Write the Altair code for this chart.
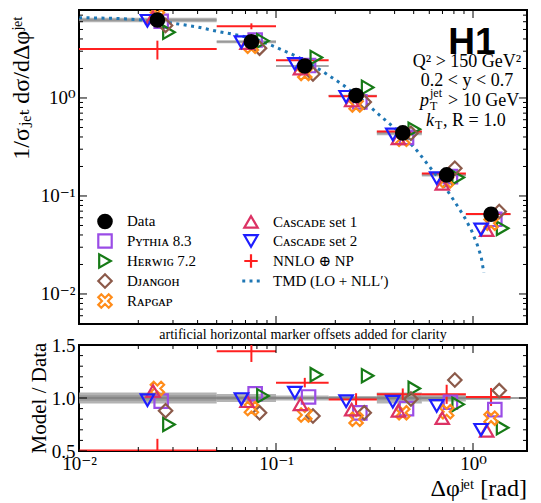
import altair as alt
import pandas as pd

# ---------------- data ----------------
bin_lo = [0.0, 0.05, 0.10, 0.185, 0.325, 0.55, 0.92]
bin_hi = [0.05, 0.10, 0.185, 0.325, 0.55, 0.92, 1.55]
bin_center = [0.025, 0.075, 0.14, 0.255, 0.44, 0.735, 1.235]
data_val = [6.25, 3.75, 2.12, 1.06, 0.44, 0.164, 0.065]
unc_tot = [0.053, 0.038, 0.024, 0.018, 0.052, 0.034, 0.02]
unc_stat = [0.025, 0.016, 0.010, 0.008, 0.022, 0.013, 0.008]

ratio_pythia = [0.97, 1.04, 1.01, 0.86, 0.90, 0.96, 0.89]
ratio_herwig = [0.75, 1.02, 1.22, 1.21, 1.09, 0.94, 0.72]
ratio_djangoh = [0.88, 0.86, 0.83, 0.86, 0.99, 1.17, 1.07]
ratio_rapgap = [1.09, 0.90, 0.84, 0.80, 0.86, 0.87, 0.81]
ratio_cascade1 = [1.066, 0.97, 0.94, 0.89, 0.88, 0.81, 0.69]
ratio_cascade2 = [0.98, 0.99, 1.05, 0.97, 0.965, 0.925, 0.70]
ratio_nnlo = [0.505, 1.44, 1.145, 0.985, 1.035, 1.035, 1.01]
err_nnlo = [0.11, 0.10, 0.045, 0.06, 0.055, 0.09, 0.085]

tmd_x = [0.010, 0.015, 0.02, 0.03, 0.04, 0.05, 0.065, 0.08, 0.10, 0.13, 0.17,
         0.22, 0.28, 0.35, 0.44, 0.52, 0.60, 0.70, 0.80, 0.90, 0.98, 1.05, 1.10, 1.135]
tmd_y = [6.6, 6.5, 6.3, 5.8, 5.3, 4.8, 4.35, 3.95, 3.3, 2.6, 1.9,
         1.35, 0.92, 0.62, 0.42, 0.29, 0.20, 0.135, 0.09, 0.062, 0.045, 0.032, 0.024, 0.0165]

PY, HW, DJ, RG = "Pʏᴛʜɪᴀ 8.3", "Hᴇʀᴡɪɢ 7.2", "Dᴊᴀɴɢᴏʜ", "Rᴀᴘɢᴀᴘ"
C1, C2 = "Cᴀsᴄᴀᴅᴇ set 1", "Cᴀsᴄᴀᴅᴇ set 2"
NN, TM, DA = "NNLO ⊕ NP", "TMD (LO + NLL′)", "Data"

model_ratios = {PY: ratio_pythia, HW: ratio_herwig, DJ: ratio_djangoh,
                RG: ratio_rapgap, C1: ratio_cascade1, C2: ratio_cascade2}
# artificial horizontal marker offsets (multiplicative, log axis)
offsets = {C2: 0.89, C1: 0.95, RG: 1.0, PY: 1.045, DJ: 1.10, HW: 1.145}

# ---------------- styling ----------------
SERIF = "Liberation Serif, DejaVu Serif, serif"
W, H_TOP, H_BOT = 448, 314, 106
XMIN = 0.01
XMAX = 10 ** (-2 + W / 197.0)   # keep ~197 px per decade
X_PATH = ("M -1 -0.55 L -0.55 -1 L 0 -0.45 L 0.55 -1 L 1 -0.55 L 0.45 0 L 1 0.55 "
          "L 0.55 1 L 0 0.45 L -0.55 1 L -1 0.55 L -0.45 0 Z")
PLUS_PATH = "M -1 0 L 1 0 M 0 -1 L 0 1"
DOTS_PATH = ("M -1.3 -0.22 h 0.44 v 0.44 h -0.44 Z M -0.22 -0.22 h 0.44 v 0.44 h -0.44 Z "
             "M 0.86 -0.22 h 0.44 v 0.44 h -0.44 Z")

legend_order = [DA, PY, HW, DJ, RG, C1, C2, NN, TM]
shape_of = {DA: "circle", PY: "square", HW: "triangle-right", DJ: "diamond", RG: X_PATH,
            C1: "triangle-up", C2: "triangle-down", NN: PLUS_PATH, TM: DOTS_PATH}
stroke_of = {DA: "black", PY: "#9a4ce6", HW: "#167a16", DJ: "#8c5a4a", RG: "#ff8c1a",
             C1: "#dc3264", C2: "#1e1eff", NN: "#ff2020", TM: "transparent"}
fill_of = {k: "transparent" for k in legend_order}
fill_of[DA] = "black"
fill_of[TM] = "#1f77b4"

# ---------------- tables ----------------
bins = pd.DataFrame({"lo": bin_lo, "hi": bin_hi, "c": bin_center, "d": data_val,
                     "ut": unc_tot, "us": unc_stat, "rn": ratio_nnlo, "en": err_nnlo})
bins["lo"] = bins["lo"].clip(lower=XMIN)
bins["t_lo"] = bins.d * (1 - bins.ut)
bins["t_hi"] = bins.d * (1 + bins.ut)
bins["s_lo"] = bins.d * (1 - bins.us)
bins["s_hi"] = bins.d * (1 + bins.us)
bins["r_t_lo"] = 1 - bins.ut
bins["r_t_hi"] = 1 + bins.ut
bins["r_s_lo"] = 1 - bins.us
bins["r_s_hi"] = 1 + bins.us
bins["n_val"] = bins.rn * bins.d
bins["n_lo"] = (bins.rn - bins.en) * bins.d
bins["n_hi"] = (bins.rn + bins.en) * bins.d
bins["rn_lo"] = bins.rn - bins.en
bins["rn_hi"] = bins.rn + bins.en

rows = []
for m, rr in model_ratios.items():
    for i in range(len(bin_center)):
        rows.append({"model": m, "xo": bin_center[i] * offsets[m],
                     "top": rr[i] * data_val[i], "ratio": rr[i]})
for i in range(len(bin_center)):
    rows.append({"model": DA, "xo": bin_center[i], "top": data_val[i], "ratio": 1.0})
pts = pd.DataFrame(rows)
pts["order"] = range(len(pts))

tmd = pd.DataFrame({"x": tmd_x, "y": tmd_y})

# ---------------- scales / axes ----------------
xs = alt.Scale(type="log", domain=[XMIN, XMAX], nice=False)
ys_top = alt.Scale(type="log", domain=[0.00494, 7.9], nice=False)
ys_bot = alt.Scale(domain=[0.5, 1.5], nice=False, zero=False)

log_lab = "datum.value < 0.05 ? '10⁻²' : (datum.value < 0.5 ? '10⁻¹' : '10⁰')"
ax_common = dict(ticks=False, domain=False, grid=False, title=None, labelFont=SERIF,
                 labelFontSize=19, labelColor="black", labelFlush=False, labelOverlap=False)
y_axis_top = alt.Axis(values=[0.01, 0.1, 1], labelExpr=log_lab, labelPadding=4, **ax_common)
y_axis_bot = alt.Axis(values=[0.5, 1.0, 1.5], format=".1f", labelPadding=4, **ax_common)
x_axis_bot = alt.Axis(values=[0.01, 0.1, 1], labelExpr=log_lab, labelPadding=3, **ax_common)


def X(f, ax):
    return alt.X(f, type="quantitative", scale=xs, axis=ax)


def Y(f, sc, ax):
    return alt.Y(f, type="quantitative", scale=sc, axis=ax)


x_major = [0.01, 0.1, 1.0]
x_minor = [v for v in [0.02, 0.03, 0.04, 0.05, 0.06, 0.07, 0.08, 0.09,
                       0.2, 0.3, 0.4, 0.5, 0.6, 0.7, 0.8, 0.9, 2.0] if v < XMAX]
yt_major = [0.01, 0.1, 1.0]
yt_minor = [0.005, 0.006, 0.007, 0.008, 0.009, 0.02, 0.03, 0.04, 0.05, 0.06, 0.07, 0.08,
            0.09, 0.2, 0.3, 0.4, 0.5, 0.6, 0.7, 0.8, 0.9, 2, 3, 4, 5, 6, 7]
yb_major = [0.5, 1.0, 1.5]
yb_minor = [0.6, 0.7, 0.8, 0.9, 1.1, 1.2, 1.3, 1.4]


def tick_layers(H, ysc, yax, xax, ymaj, ymin):
    out = []
    for vals, L in [(x_major, 8), (x_minor, 4)]:
        base = alt.Chart(pd.DataFrame({"v": vals})).mark_rule(color="black", strokeWidth=1)
        out.append(base.encode(x=X("v", xax), y=alt.value(H), y2=alt.value(H - L)))
        out.append(base.encode(x=X("v", xax), y=alt.value(0), y2=alt.value(L)))
    for vals, L in [(ymaj, 8), (ymin, 4)]:
        base = alt.Chart(pd.DataFrame({"v": vals})).mark_rule(color="black", strokeWidth=1)
        out.append(base.encode(y=Y("v", ysc, yax), x=alt.value(0), x2=alt.value(L)))
        out.append(base.encode(y=Y("v", ysc, yax), x=alt.value(W), x2=alt.value(W - L)))
    return out


def label(text, x, y, size, font=SERIF, **kw):
    return alt.Chart(pd.DataFrame({"t": [0]})).mark_text(
        text=text, fontSize=size, font=font, color="black", **kw
    ).encode(x=alt.value(x), y=alt.value(y))


# ---------------- top panel ----------------
band_t = alt.Chart(bins).mark_rect(color="#a0a0a0", opacity=0.8).encode(
    x=X("lo", None), x2="hi", y=Y("t_lo", ys_top, y_axis_top), y2="t_hi")
band_s = alt.Chart(bins).mark_rect(color="#808080", opacity=0.5).encode(
    x=X("lo", None), x2="hi", y=Y("s_lo", ys_top, y_axis_top), y2="s_hi")
nn_h = alt.Chart(bins).mark_rule(color="#ff2020", strokeWidth=2, clip=True).encode(
    x=X("lo", None), x2="hi", y=Y("n_val", ys_top, y_axis_top))
nn_v = alt.Chart(bins).mark_rule(color="#ff2020", strokeWidth=2, clip=True).encode(
    x=X("c", None), y=Y("n_lo", ys_top, y_axis_top), y2="n_hi")
tmd_line = alt.Chart(tmd).mark_line(color="#1f77b4", strokeWidth=3, strokeDash=[3, 4.5],
                                     strokeCap="butt", clip=True).encode(
    x=X("x", None), y=Y("y", ys_top, y_axis_top))

leg = alt.Legend(orient="none", legendX=18, legendY=203, columns=2, title=None,
                 symbolSize=180, symbolStrokeWidth=2.2, labelFont=SERIF, labelFontSize=15,
                 labelColor="black", rowPadding=-4, columnPadding=40, labelOffset=14,
                 padding=0, labelLimit=300, symbolOpacity=1)
top_pts = alt.Chart(pts).mark_point(size=180, strokeWidth=2.2, opacity=1, clip=True).encode(
    x=X("xo", None), y=Y("top", ys_top, y_axis_top),
    shape=alt.Shape("model:N", scale=alt.Scale(domain=legend_order,
                    range=[shape_of[k] for k in legend_order]), legend=leg),
    stroke=alt.Stroke("model:N", scale=alt.Scale(domain=legend_order,
                      range=[stroke_of[k] for k in legend_order]), legend=leg),
    fill=alt.Fill("model:N", scale=alt.Scale(domain=legend_order,
                  range=[fill_of[k] for k in legend_order]), legend=leg),
    order=alt.Order("order:Q"))

txt_top = [
    label("H1", 393, 33, 37, font="Liberation Sans, Arial, sans-serif", fontWeight="bold",
          align="center"),
    label("Q² > 150 GeV²", 388, 52, 18, align="center"),
    label("0.2 < y < 0.7", 388, 71, 18, align="center"),
    label("p", 341, 91, 18, align="left", fontStyle="italic"),
    label("jet", 351, 83, 12, align="left"),
    label("T", 351, 96, 12, align="left"),
    label("> 10 GeV", 369, 91, 18, align="left"),
    label("k", 347, 111, 18, align="left", fontStyle="italic"),
    label("T", 356, 115, 12, align="left"),
    label(", R = 1.0", 364, 111, 18, align="left"),
    label("1/σⱼₑₜ dσ/dΔφʲᵉᵗ", -57, 78, 24, angle=270, align="center", baseline="middle"),
]

top = alt.layer(band_t, band_s, nn_h, nn_v, tmd_line, top_pts,
                *tick_layers(H_TOP, ys_top, y_axis_top, None, yt_major, yt_minor),
                *txt_top).properties(width=W, height=H_TOP)

# ---------------- ratio panel ----------------
rb_t = alt.Chart(bins).mark_rect(color="#a0a0a0", opacity=0.8).encode(
    x=X("lo", x_axis_bot), x2="hi", y=Y("r_t_lo", ys_bot, y_axis_bot), y2="r_t_hi")
rb_s = alt.Chart(bins).mark_rect(color="#808080", opacity=0.5).encode(
    x=X("lo", x_axis_bot), x2="hi", y=Y("r_s_lo", ys_bot, y_axis_bot), y2="r_s_hi")
one_line = alt.Chart(pd.DataFrame({"one": [1.0]})).mark_rule(
    color="#808080", strokeWidth=1.3).encode(y=Y("one", ys_bot, y_axis_bot))
rn_h = alt.Chart(bins).mark_rule(color="#ff2020", strokeWidth=2, clip=True).encode(
    x=X("lo", x_axis_bot), x2="hi", y=Y("rn", ys_bot, y_axis_bot))
rn_v = alt.Chart(bins).mark_rule(color="#ff2020", strokeWidth=2, clip=True).encode(
    x=X("c", x_axis_bot), y=Y("rn_lo", ys_bot, y_axis_bot), y2="rn_hi")
bot_pts = alt.Chart(pts[pts.model != DA]).mark_point(
    size=180, strokeWidth=2.2, opacity=1, clip=True).encode(
    x=X("xo", x_axis_bot), y=Y("ratio", ys_bot, y_axis_bot),
    shape=alt.Shape("model:N", scale=alt.Scale(domain=legend_order,
                    range=[shape_of[k] for k in legend_order]), legend=None),
    stroke=alt.Stroke("model:N", scale=alt.Scale(domain=legend_order,
                      range=[stroke_of[k] for k in legend_order]), legend=None),
    fill=alt.Fill("model:N", scale=alt.Scale(domain=legend_order,
                  range=[fill_of[k] for k in legend_order]), legend=None),
    order=alt.Order("order:Q"))

txt_bot = [
    label("artificial horizontal marker offsets added for clarity", W / 2, -10, 14,
          align="center", baseline="middle"),
    label("Model / Data", -39, 53, 21, angle=270, align="center", baseline="middle"),
    label("Δφʲᵉᵗ [rad]", W, 144, 24, align="right"),
]

bottom = alt.layer(rb_t, rb_s, one_line, rn_h, rn_v, bot_pts,
                   *tick_layers(H_BOT, ys_bot, y_axis_bot, x_axis_bot, yb_major, yb_minor),
                   *txt_bot).properties(width=W, height=H_BOT)

chart = alt.vconcat(top, bottom, spacing=21, bounds="flush").resolve_scale(
    x="independent", y="independent", shape="independent", stroke="independent",
    fill="independent"
).properties(
    padding={"left": 1, "top": 0, "right": 0, "bottom": 0}
).configure_view(stroke="black", strokeWidth=2).configure_axis(grid=False)

chart.save("out.html", embed_options={"renderer": "svg", "actions": False})
